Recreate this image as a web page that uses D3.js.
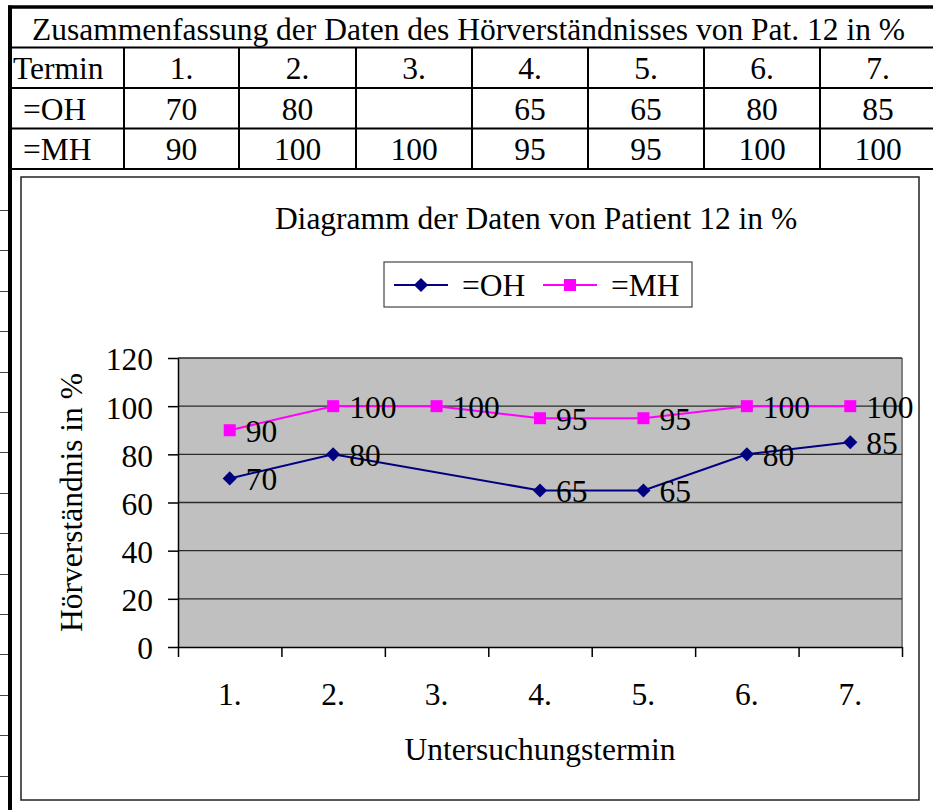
<!DOCTYPE html>
<html>
<head>
<meta charset="utf-8">
<script src="https://cdn.jsdelivr.net/npm/d3@7"></script>
<style>
  html, body { margin: 0; padding: 0; background: #fff; }
  svg { display: block; }
  text { font-family: "Liberation Serif", "Times New Roman", serif; fill: #000; }
</style>
</head>
<body>
<script>
// Daten
let termine = ["1.", "2.", "3.", "4.", "5.", "6.", "7."];
let ohWerte = [70, 80, null, 65, 65, 80, 85];
let mhWerte = [90, 100, 100, 95, 95, 100, 100];
let yTicks = [0, 20, 40, 60, 80, 100, 120];
let serien = [
  {name: "=OH", werte: ohWerte, farbe: "#000080", dreh: 45, groesse: 100},
  {name: "=MH", werte: mhWerte, farbe: "#ff00ff", dreh: 0, groesse: 144}
];

let width = 933, height = 810, fs = 31.5;

let svg = d3.select("body").append("svg")
  .attr("width", width)
  .attr("height", height);

// Tabelle oben
let tabTop = 7, rowH = 40.5, colX = [10, 124, 239, 356, 472, 588, 704, 820, 936];
let tab = svg.append("g");
tab.append("text")
  .attr("x", 32).attr("y", tabTop + 33)
  .attr("font-size", fs)
  .text("Zusammenfassung der Daten des Hörverständnisses von Pat. 12 in %");

let zeilen = [
  {label: "Termin", lx: 13, werte: termine},
  {label: "=OH", lx: 23, werte: ohWerte},
  {label: "=MH", lx: 23, werte: mhWerte}
];
zeilen.forEach(function(z, r) {
  let yb = tabTop + rowH * (r + 2) - 9;
  tab.append("text").attr("x", z.lx).attr("y", yb).attr("font-size", fs).text(z.label);
  z.werte.forEach(function(v, i) {
    if (v == null) return;
    tab.append("text")
      .attr("x", (colX[i + 1] + colX[i + 2]) / 2)
      .attr("y", yb)
      .attr("text-anchor", "middle")
      .attr("font-size", fs)
      .text(v);
  });
});
// Linien der Tabelle
for (let r = 1; r <= 4; r++) {
  tab.append("line")
    .attr("x1", colX[0]).attr("x2", width)
    .attr("y1", tabTop + rowH * r).attr("y2", tabTop + rowH * r)
    .attr("stroke", "#000").attr("stroke-width", 2);
}
colX.slice(1, 8).forEach(function(x) {
  tab.append("line")
    .attr("x1", x).attr("x2", x)
    .attr("y1", tabTop + rowH).attr("y2", tabTop + rowH * 4)
    .attr("stroke", "#000").attr("stroke-width", 2);
});
tab.append("line")
  .attr("x1", 8).attr("x2", width).attr("y1", tabTop).attr("y2", tabTop)
  .attr("stroke", "#000").attr("stroke-width", 3.5);
tab.append("line")
  .attr("x1", 10).attr("x2", 10).attr("y1", tabTop - 1.5).attr("y2", height)
  .attr("stroke", "#000").attr("stroke-width", 4);
// kleine Striche am linken Rand
svg.selectAll("line.rand")
  .data(d3.range(210, 800, 40.4))
  .enter().append("line")
  .attr("class", "rand")
  .attr("x1", 0).attr("x2", 8)
  .attr("y1", function(d) { return Math.round(d) + 0.5; })
  .attr("y2", function(d) { return Math.round(d) + 0.5; })
  .attr("stroke", "#444").attr("stroke-width", 1);

// Diagrammrahmen
svg.append("rect")
  .attr("x", 21).attr("y", 177).attr("width", 898).attr("height", 623)
  .attr("fill", "none").attr("stroke", "#222").attr("stroke-width", 1.5);

let pl = 178, pr = 902, pt = 358, pb = 647;
let x = d3.scaleBand().domain(termine).range([pl, pr]).padding(0);
let xt = d3.scaleLinear().domain([0, termine.length]).range([pl, pr]);
let y = d3.scaleLinear().domain([0, 120]).range([pb, pt]);

// Plotfläche
svg.append("rect")
  .attr("x", pl).attr("y", pt).attr("width", pr - pl).attr("height", pb - pt)
  .attr("fill", "#c0c0c0");
svg.append("line")
  .attr("x1", pr).attr("x2", pr).attr("y1", pt).attr("y2", pb)
  .attr("stroke", "#808080").attr("stroke-width", 2);

// Gitterlinien
svg.selectAll("line.grid")
  .data(yTicks.filter(function(d) { return d > 0; }))
  .enter().append("line")
  .attr("class", "grid")
  .attr("x1", pl).attr("x2", pr)
  .attr("y1", function(d) { return y(d); })
  .attr("y2", function(d) { return y(d); })
  .attr("stroke", "#2a2a2a").attr("stroke-width", 1.4);

// Achsen
let axisY = d3.axisLeft(y).tickValues(yTicks).tickSize(10).tickSizeOuter(0).tickPadding(15);
let gy = svg.append("g").attr("transform", `translate(${pl},0)`).call(axisY);
gy.selectAll("text").attr("font-size", fs).attr("font-family", "Liberation Serif").attr("dy", "0.38em");
gy.selectAll("line, path").attr("stroke", "#000").attr("stroke-width", 1.5);

let axisX = d3.axisBottom(xt).ticks(termine.length).tickFormat("").tickSize(10).tickSizeOuter(0);
let gx = svg.append("g").attr("transform", `translate(0,${pb})`).call(axisX);
gx.selectAll("line, path").attr("stroke", "#000").attr("stroke-width", 1.5);

svg.selectAll("text.xlab")
  .data(termine)
  .enter().append("text")
  .attr("class", "xlab")
  .attr("x", function(d) { return x(d) + x.bandwidth() / 2; })
  .attr("y", 705)
  .attr("text-anchor", "middle")
  .attr("font-size", fs)
  .text(function(d) { return d; });

// Achsentitel und Titel
svg.append("text")
  .attr("x", (pl + pr) / 2).attr("y", 760)
  .attr("text-anchor", "middle").attr("font-size", fs)
  .text("Untersuchungstermin");
svg.append("text")
  .attr("transform", `translate(82,${(pt + pb) / 2}) rotate(-90)`)
  .attr("text-anchor", "middle").attr("font-size", fs)
  .text("Hörverständnis in %");
svg.append("text")
  .attr("x", 536).attr("y", 229)
  .attr("text-anchor", "middle").attr("font-size", fs)
  .text("Diagramm der Daten von Patient 12 in %");

// Linien und Punkte
let cx = function(i) { return x(termine[i]) + x.bandwidth() / 2; };
serien.forEach(function(s) {
  let pts = s.werte.map(function(v, i) { return {i: i, v: v}; })
    .filter(function(p) { return p.v != null; });
  let line = d3.line()
    .x(function(p) { return cx(p.i); })
    .y(function(p) { return y(p.v); });
  svg.append("path")
    .datum(pts)
    .attr("d", line)
    .attr("fill", "none")
    .attr("stroke", s.farbe)
    .attr("stroke-width", 2);
  svg.selectAll(null)
    .data(pts)
    .enter().append("path")
    .attr("d", d3.symbol().type(d3.symbolSquare).size(s.groesse))
    .attr("transform", function(p) { return `translate(${cx(p.i)},${y(p.v)}) rotate(${s.dreh})`; })
    .attr("fill", s.farbe);
  svg.selectAll(null)
    .data(pts)
    .enter().append("text")
    .attr("x", function(p) { return cx(p.i) + 16; })
    .attr("y", function(p) { return y(p.v) + 11.5; })
    .attr("font-size", fs)
    .text(function(p) { return p.v; });
});

// Legende
let leg = svg.append("g");
leg.append("rect")
  .attr("x", 384).attr("y", 262).attr("width", 308).attr("height", 45)
  .attr("fill", "#fff").attr("stroke", "#444").attr("stroke-width", 1.2);
let legX = [394, 543];
serien.forEach(function(s, k) {
  let lx = legX[k];
  leg.append("line")
    .attr("x1", lx).attr("x2", lx + 54).attr("y1", 285).attr("y2", 285)
    .attr("stroke", s.farbe).attr("stroke-width", 2);
  leg.append("path")
    .attr("d", d3.symbol().type(d3.symbolSquare).size(s.groesse))
    .attr("transform", `translate(${lx + 27},285) rotate(${s.dreh})`)
    .attr("fill", s.farbe);
  leg.append("text")
    .attr("x", lx + 68).attr("y", 296)
    .attr("font-size", fs)
    .text(s.name);
});
</script>
</body>
</html>
